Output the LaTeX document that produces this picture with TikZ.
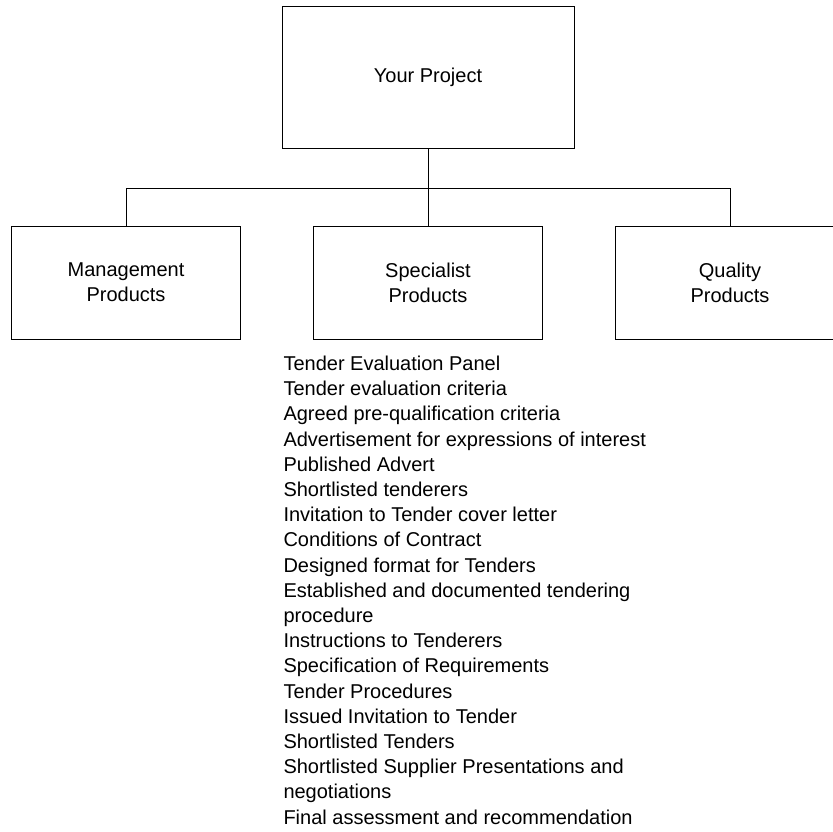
\documentclass[tikz,border=0pt]{standalone}
\usepackage{fontspec}
\setmainfont{Liberation Sans}
\usetikzlibrary{positioning}

\begin{document}
\begin{tikzpicture}[
  x=1pt, y=-1pt, line width=1pt,
  txt/.style={font=\fontsize{20}{25.2}\selectfont},
  projectbox/.style={rectangle, draw, txt, minimum width=292pt, minimum height=142pt, align=center},
  productbox/.style={rectangle, draw, txt, minimum width=229pt, minimum height=113pt, align=center},
  listing/.style={txt, align=left, inner sep=0pt, anchor=north west}
]
\useasboundingbox (0,0) rectangle (833,831);
\clip (0,0) rectangle (833,831);

\node[projectbox] (project) at (428,77) {Your Project};

\node[productbox] (mgmt) at (126,282.5) {Management\\Products};
\node[productbox] (special) at (428,282.5) {Specialist\\Products};
\node[productbox] (quality) at (730,282.5) {Quality\\Products};

\coordinate (branch) at (428,188.7);
\draw (project.south) -- (special.north);
\draw (mgmt.north) |- (branch) -| (quality.north);

\node[listing] (speclist) at (283,355.4) {Tender Evaluation Panel\\
Tender evaluation criteria\\
Agreed pre-qualification criteria\\
Advertisement for expressions of interest\\
Published Advert\\
Shortlisted tenderers\\
Invitation to Tender cover letter\\
Conditions of Contract\\
Designed format for Tenders\\
Established and documented tendering\\
procedure\\
Instructions to Tenderers\\
Specification of Requirements\\
Tender Procedures\\
Issued Invitation to Tender\\
Shortlisted Tenders\\
Shortlisted Supplier Presentations and\\
negotiations\\
Final assessment and recommendation};
\end{tikzpicture}
\end{document}
